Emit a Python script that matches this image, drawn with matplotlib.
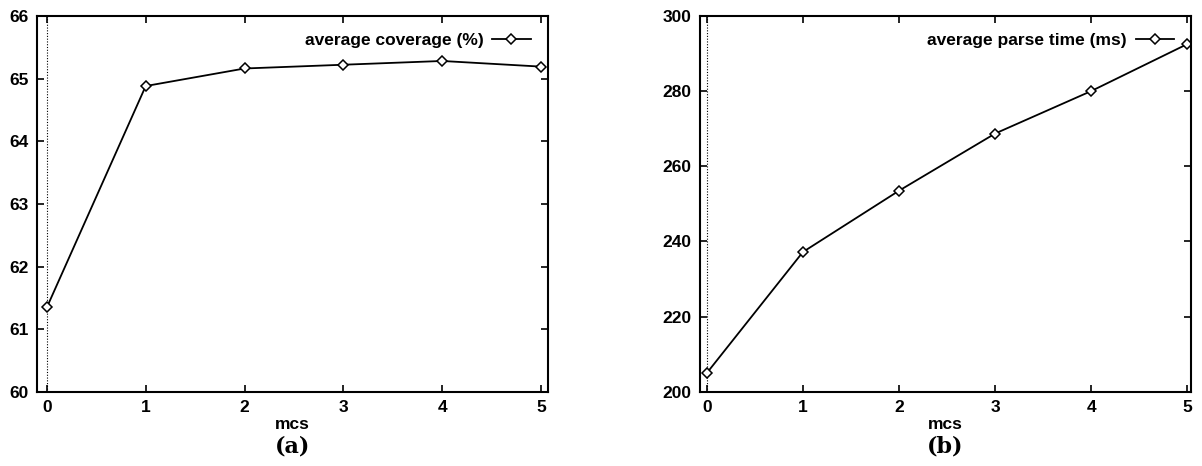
import matplotlib
matplotlib.use("Agg")
import matplotlib.pyplot as plt

mcs = [0, 1, 2, 3, 4, 5]
coverage = [61.35, 64.88, 65.16, 65.22, 65.28, 65.19]
parse_time = [205.0, 237.2, 253.5, 268.7, 280.0, 292.5]

cov_ticks = [60, 61, 62, 63, 64, 65, 66]
time_ticks = [200, 220, 240, 260, 280, 300]

plt.rcParams['font.family'] = ['Liberation Sans', 'DejaVu Sans']

fig = plt.figure(figsize=(12.02, 4.66), dpi=100)
ax1 = fig.add_axes([0.0308, 0.159, 0.425, 0.807])
ax2 = fig.add_axes([0.582, 0.159, 0.409, 0.807])

def style(ax, y, ticks, label, xlim, ylim, sub):
    ax.plot(mcs, y, color='black', lw=1.3, marker='D', markersize=5,
            markerfacecolor='white', markeredgecolor='black', markeredgewidth=1.1,
            label=label)
    ax.axvline(0, color='black', lw=0.8, ls=(0, (1, 1.5)), zorder=0)
    ax.set_xlim(*xlim)
    ax.set_ylim(*ylim)
    ax.set_xticks(mcs)
    ax.set_yticks(ticks)
    ax.tick_params(direction='in', length=5, width=1.2, top=True, right=True,
                   labelsize=12.5, pad=6)
    for lab in ax.get_xticklabels() + ax.get_yticklabels():
        lab.set_fontweight('bold')
    for s in ax.spines.values():
        s.set_linewidth(1.5)
    ax.set_xlabel('mcs', fontsize=12.5, fontweight='bold', labelpad=1)
    leg = ax.legend(loc='upper right', frameon=False, markerfirst=False,
                    numpoints=1, handlelength=2.2, handletextpad=0.5,
                    borderaxespad=0.6, prop={'size': 12.5, 'weight': 'bold'})
    ax.text(0.5, -0.115, sub, transform=ax.transAxes, ha='center', va='top',
            fontsize=16, fontweight='bold', family=['DejaVu Serif'])

style(ax1, coverage, cov_ticks, 'average coverage (%)', (-0.1, 5.07), (60, 66), '(a)')
style(ax2, parse_time, time_ticks, 'average parse time (ms)', (-0.075, 5.04), (200, 300), '(b)')

fig.savefig('out.png', dpi=100)
